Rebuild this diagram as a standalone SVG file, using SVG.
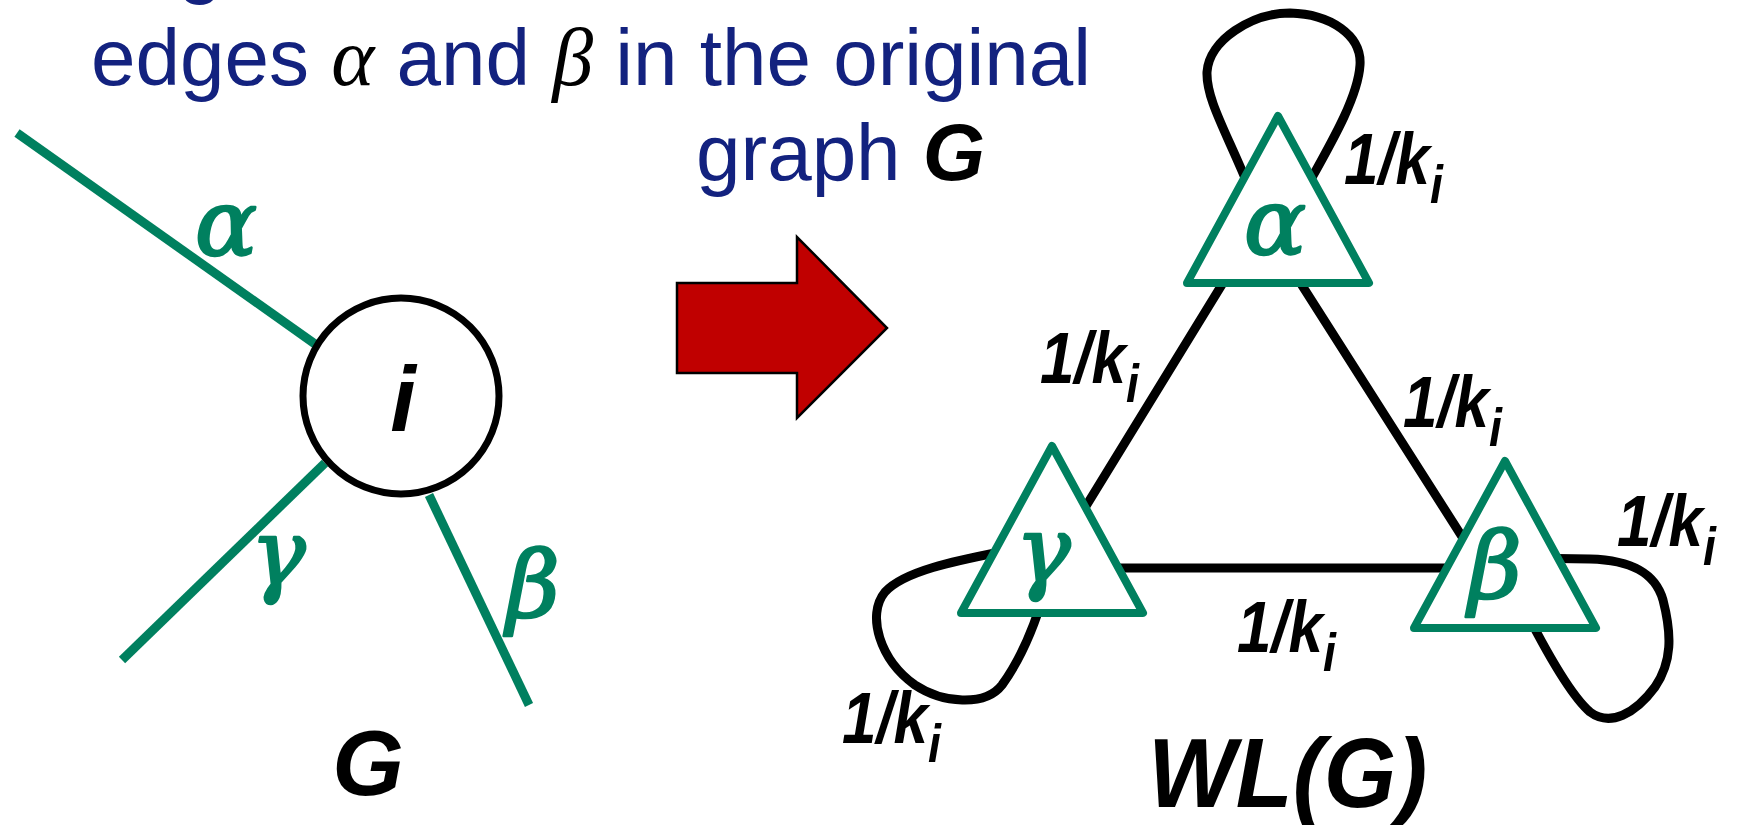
<svg xmlns="http://www.w3.org/2000/svg" width="1739" height="825" viewBox="0 0 1739 825">
<style>
.hdr{font-family:"Liberation Sans",Arial,sans-serif;font-size:80px;fill:#13227f}
.gk{font-family:"Liberation Serif","Times New Roman",serif;font-style:italic}
.bi{font-family:"Liberation Sans",Arial,sans-serif;font-weight:bold;font-style:italic;fill:#000}
.lbl{font-family:"Liberation Sans",Arial,sans-serif;font-weight:bold;font-style:italic;font-size:72px;fill:#000}
.edgeG{stroke:#00805f;stroke-width:9;fill:none}
.edgeK{stroke:#000;stroke-width:9;fill:none;stroke-linecap:round}
.tri{fill:#fff;stroke:#00805f;stroke-width:8;stroke-linejoin:round}
.glbl{font-family:"DejaVu Serif","Liberation Serif",serif;font-style:italic;font-size:92px;fill:#00805f;stroke:#00805f;stroke-width:2.5;stroke-linejoin:round;text-anchor:middle}
</style>
<defs>
<path id="triShape" d="M0,0 L91,167 L-91,167 Z"/>
</defs>
<rect width="1739" height="825" fill="#fff"/>

<!-- header text -->
<g id="header">
<text class="hdr" x="178" y="-12">g</text>
<text class="hdr" x="91" y="85">edges <tspan class="gk" font-size="82" fill="#000">α</tspan> and <tspan class="gk" font-size="82" fill="#000">β</tspan> in the original</text>
<text class="hdr" x="696" y="180">graph <tspan font-weight="bold" font-style="italic" fill="#000">G</tspan></text>
</g>

<!-- left graph G -->
<g id="connectors-left">
<line class="edgeG" x1="17" y1="133" x2="315" y2="344"/>
<line class="edgeG" x1="325" y1="463" x2="122" y2="660"/>
<line class="edgeG" x1="429" y1="495" x2="529" y2="705"/>
</g>
<g id="node-i">
<circle cx="401" cy="396" r="98" fill="#fff" stroke="#000" stroke-width="7"/>
<text class="bi" x="403" y="431" font-size="92" text-anchor="middle">i</text>
</g>
<g id="left-edge-labels">
<text class="glbl" x="226" y="255">α</text>
<text class="glbl" x="278" y="585">γ</text>
<text class="glbl" x="533" y="617">β</text>
</g>
<text class="bi" x="368" y="795" font-size="92" text-anchor="middle">G</text>

<!-- red arrow -->
<g id="arrow">
<polygon points="677,283 797,283 797,237 887,328 797,418 797,373 677,373" fill="#c00000" stroke="#000" stroke-width="2.5" stroke-linejoin="miter"/>
</g>

<!-- right graph WL(G) -->
<g id="connectors-right">
<path class="edgeK" d="M1261,221 L1048,568 L1482,568 Z" stroke-linejoin="round"/>
<path class="edgeK" d="M1250,190 C1228,135 1206,100 1207,72 C1209,40 1252,13 1290,13 C1330,14 1362,35 1360,65 C1358,98 1330,145 1305,190"/>
<path class="edgeK" d="M1010,550 C960,560 905,570 885,592 C866,615 880,660 915,685 C942,703 985,707 1002,685 C1020,660 1035,625 1045,590"/>
<path class="edgeK" d="M1520,558 L1590,559 C1630,560 1655,572 1663,600 C1672,635 1672,662 1655,687 C1635,714 1610,727 1590,712 C1570,695 1545,650 1520,600"/>
</g>
<g id="node-alpha">
<use href="#triShape" class="tri" x="1278" y="116"/>
<text class="glbl" x="1275" y="254">α</text>
</g>
<g id="node-gamma">
<use href="#triShape" class="tri" x="1052" y="446"/>
<text class="glbl" x="1043" y="582">γ</text>
</g>
<g id="node-beta">
<use href="#triShape" class="tri" x="1505" y="461"/>
<text class="glbl" x="1495" y="598">β</text>
</g>
<g id="weights">
<text class="lbl" transform="translate(1344,184) scale(0.86,1)">1/k<tspan font-size="54" dy="19">i</tspan></text>
<text class="lbl" transform="translate(1040,383) scale(0.86,1)">1/k<tspan font-size="54" dy="19">i</tspan></text>
<text class="lbl" transform="translate(1403,427) scale(0.86,1)">1/k<tspan font-size="54" dy="19">i</tspan></text>
<text class="lbl" transform="translate(1617,546) scale(0.86,1)">1/k<tspan font-size="54" dy="19">i</tspan></text>
<text class="lbl" transform="translate(1237,652) scale(0.86,1)">1/k<tspan font-size="54" dy="19">i</tspan></text>
<text class="lbl" transform="translate(842,743) scale(0.86,1)">1/k<tspan font-size="54" dy="19">i</tspan></text>
</g>
<text class="bi" font-size="98" transform="translate(1148,807) scale(0.95,1)">WL(G)</text>
</svg>
